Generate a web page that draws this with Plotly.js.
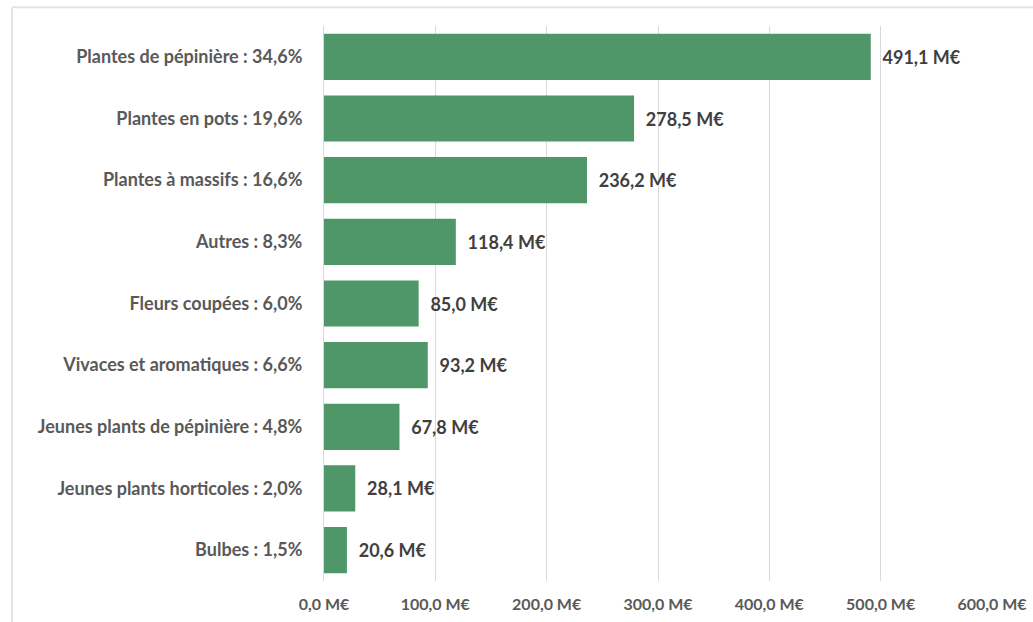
<!DOCTYPE html>
<html>
<head>
<meta charset="utf-8">
<script src="https://cdn.plot.ly/plotly-3.0.1.min.js"></script>
<style>
html,body{margin:0;padding:0;background:#fff;}
#chart{width:1033px;height:622px;}
</style>
</head>
<body>
<div id="chart"></div>
<script>
const categories = [
  "Plantes de pépinière : 34,6%",
  "Plantes en pots : 19,6%",
  "Plantes à massifs : 16,6%",
  "Autres : 8,3%",
  "Fleurs coupées : 6,0%",
  "Vivaces et aromatiques : 6,6%",
  "Jeunes plants de pépinière : 4,8%",
  "Jeunes plants horticoles : 2,0%",
  "Bulbes : 1,5%"
];
const values = [491.1, 278.5, 236.2, 118.4, 85.0, 93.2, 67.8, 28.1, 20.6];
const tickVals = [0, 100, 200, 300, 400, 500, 600];
const tickLabels = ["0,0 M€", "100,0 M€", "200,0 M€", "300,0 M€", "400,0 M€", "500,0 M€", "600,0 M€"];

const fontFam = "Lato, 'Open Sans', sans-serif";

const trace = {
  type: "bar",
  orientation: "h",
  y: categories,
  x: values,
  marker: {color: "#4f9669"},
  text: values.map(v => "\u00a0\u00a0" + v.toFixed(1).replace(".", ",") + " M€"),
  textposition: "outside",
  textfont: {family: fontFam, size: 18, color: "#404040", weight: "bold"},
  cliponaxis: false,
  hoverinfo: "skip"
};

const layout = {
  width: 1033,
  height: 622,
  margin: {l: 324, r: 41, t: 26, b: 41},
  paper_bgcolor: "#ffffff",
  plot_bgcolor: "#ffffff",
  showlegend: false,
  bargap: 0.25,
  font: {family: fontFam, color: "#595959"},
  xaxis: {
    range: [0, 600],
    tickvals: tickVals,
    ticktext: tickLabels,
    showgrid: true,
    gridcolor: "#d9d9d9",
    gridwidth: 1,
    zeroline: false,
    showline: false,
    ticks: "",
    tickfont: {family: fontFam, size: 16, color: "#595959", weight: "bold"},
    ticklabelstandoff: 12,
    fixedrange: true
  },
  yaxis: {
    autorange: "reversed",
    showgrid: false,
    zeroline: false,
    showline: true,
    linecolor: "#d9d9d9",
    linewidth: 1,
    ticks: "",
    ticklabelstandoff: 17,
    tickfont: {family: fontFam, size: 18, color: "#595959", weight: "bold"},
    fixedrange: true
  },
  shapes: [
    {type: "line", xref: "paper", yref: "paper", x0: -0.467, x1: 1.1, y0: 1.034, y1: 1.034, line: {color: "#e3e3e3", width: 2}},
    {type: "line", xref: "paper", yref: "paper", x0: -0.467, x1: -0.467, y0: 1.034, y1: -0.1, line: {color: "#e3e3e3", width: 2}}
  ]
};

Plotly.newPlot("chart", [trace], layout, {displayModeBar: false, staticPlot: true});
</script>
</body>
</html>
